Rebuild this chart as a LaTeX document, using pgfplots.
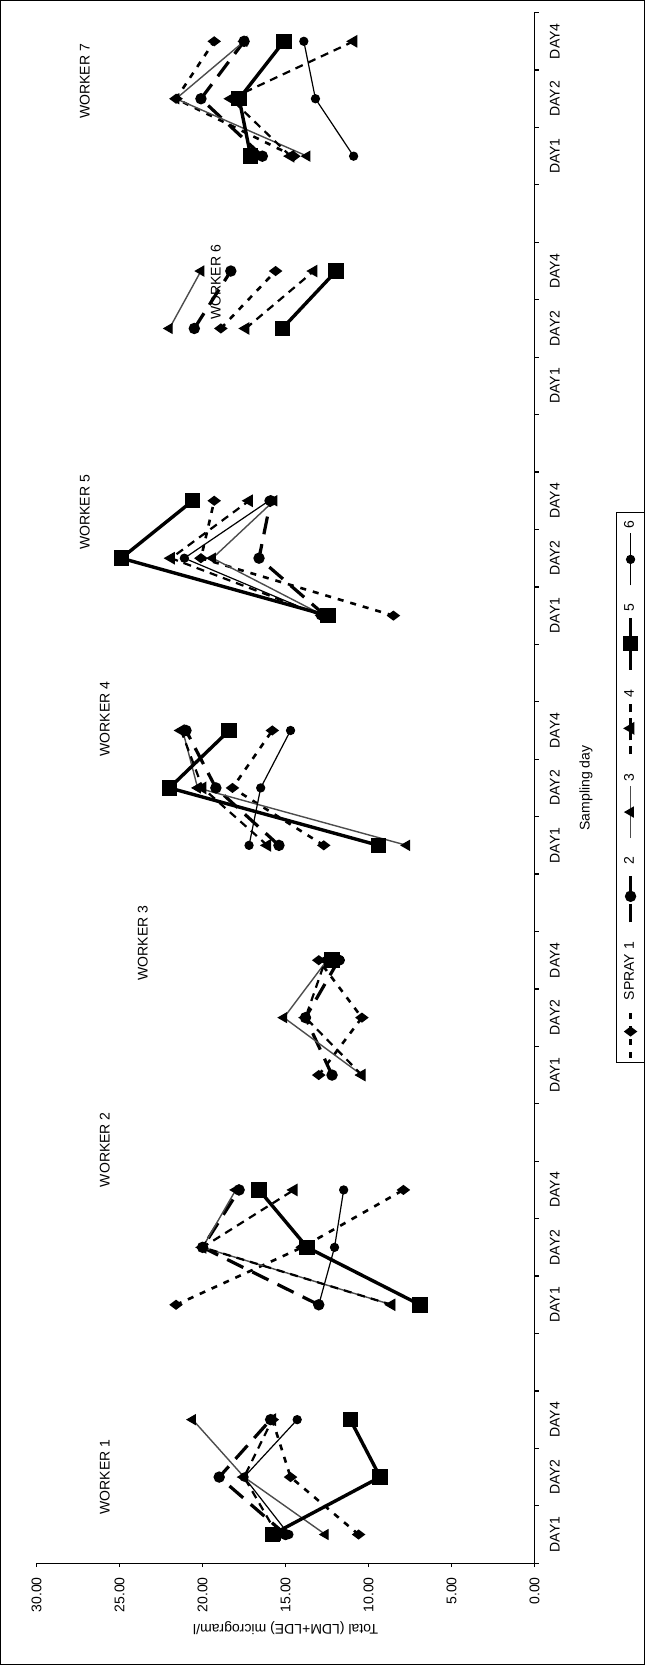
\documentclass[border=0pt]{standalone}
\usepackage{pgfplots}
\pgfplotsset{compat=1.18}
\usepackage{pgfplotstable}
\usepackage{graphicx}
\usepackage{fontspec}
\setmainfont{Liberation Sans}

\pgfplotstableread{
x s1 s2 s3 s4 s5 s6
0 10.6 15.0 12.6 15.5 15.8 14.8
1 14.7 19.0 17.5 17.5 9.3 17.5
2 15.8 15.9 20.6 15.8 11.1 14.3
3 nan nan nan nan nan nan
4 21.6 13.0 8.6 8.6 6.9 13.0
5 14.0 20.0 20.0 20.0 13.7 12.05
6 7.9 17.8 18.0 14.5 16.6 11.5
7 nan nan nan nan nan nan
8 13.0 12.2 10.4 10.4 nan nan
9 10.4 13.8 15.1 13.8 nan nan
10 13.0 11.8 12.5 12.6 12.2 11.7
11 nan nan nan nan nan nan
12 12.7 15.4 7.7 16.1 9.4 17.2
13 18.2 19.2 20.3 20.0 22.0 16.5
14 15.8 21.0 21.2 21.3 18.4 14.7
15 nan nan nan nan nan nan
16 8.5 12.6 12.7 12.8 12.45 12.9
17 20.1 16.6 19.4 21.9 24.9 21.1
18 19.3 15.9 15.7 17.2 20.6 16.0
19 nan nan nan nan nan nan
20 nan nan nan nan nan nan
21 18.9 20.5 22.0 17.4 15.2 nan
22 15.6 18.3 20.1 13.3 11.95 nan
23 nan nan nan nan nan nan
24 14.5 16.4 13.7 14.7 17.1 10.9
25 21.6 20.1 21.6 18.3 17.8 13.2
26 19.3 17.5 17.5 10.9 15.1 13.9
}\datatable

\pgfplotsset{
 s1/.style={black, line width=1.3pt, dash pattern=on 3pt off 3.5pt, mark=diamond*, mark size=2.3pt, mark options={solid}},
 s2/.style={black, line width=1.6pt, dash pattern=on 9pt off 5pt, mark=*, mark size=2pt, mark options={solid}},
 s3/.style={black!70, line width=0.7pt, mark=triangle*, mark size=2.6pt, mark options={solid, black}},
 s4/.style={black, line width=1.1pt, dash pattern=on 4pt off 3pt, mark=triangle*, mark size=2.6pt, mark options={solid}},
 s5/.style={black, line width=1.7pt, mark=square*, mark size=3pt, mark options={solid}},
 s6/.style={black, line width=0.6pt, mark=*, mark size=2pt},
}

\begin{document}
\rotatebox{90}{%
\begin{tikzpicture}[font=\fontsize{7}{8.4}\selectfont]
\begin{axis}[
 scale only axis, width=774pt, height=248.5pt,
 xmin=-0.5, xmax=26.5, ymin=0, ymax=30,
 axis lines=left, axis line style={-, line width=0.6pt},
 unbounded coords=jump,
 tick align=outside,
 major tick length=0pt, minor tick length=2pt,
 every tick/.style={black, line width=0.6pt},
 xtick={0,1,2,4,5,6,8,9,10,12,13,14,16,17,18,20,21,22,24,25,26},
 xticklabels={DAY1,DAY2,DAY4,DAY1,DAY2,DAY4,DAY1,DAY2,DAY4,DAY1,DAY2,DAY4,DAY1,DAY2,DAY4,DAY1,DAY2,DAY4,DAY1,DAY2,DAY4},
 minor xtick={-0.5,0.5,...,26.5},
 ytick={0,5,...,30}, minor ytick={0,5,...,30},
 xticklabel style={anchor=base, yshift=-12.5pt},
 yticklabel style={xshift=-3.5pt, /pgf/number format/fixed, /pgf/number format/fixed zerofill, /pgf/number format/precision=2},
 /pgf/number format/assume math mode=true,
 xlabel={Sampling day},
 xlabel style={at={(axis description cs:0.5,0)}, anchor=base, yshift=-27.5pt},
 ylabel={Total (LDM+LDE) microgram/l},
 ylabel style={at={(axis description cs:-0.042,0.5)}, anchor=center},
 legend image code/.code={\draw[mark repeat=2,mark phase=2] plot coordinates {(0pt,0pt) (13pt,0pt) (26pt,0pt)};},
 legend style={at={(0.5,-0.193)}, anchor=center, legend columns=-1, draw=black, line width=0.5pt, inner sep=2pt,
   /tikz/every even column/.append style={column sep=7pt}},
]
\addplot[s1] table[x=x, y=s1] {\datatable}; \addlegendentry{SPRAY 1}
\addplot[s2] table[x=x, y=s2] {\datatable}; \addlegendentry{2}
\addplot[s3] table[x=x, y=s3] {\datatable}; \addlegendentry{3}
\addplot[s4] table[x=x, y=s4] {\datatable}; \addlegendentry{4}
\addplot[s5] table[x=x, y=s5] {\datatable}; \addlegendentry{5}
\addplot[s6] table[x=x, y=s6] {\datatable}; \addlegendentry{6}
\node at (axis cs:1.0,25.9) {WORKER 1};
\node at (axis cs:6.7,25.9) {WORKER 2};
\node at (axis cs:10.3,23.6) {WORKER 3};
\node at (axis cs:14.2,25.9) {WORKER 4};
\node at (axis cs:17.8,27.1) {WORKER 5};
\node at (axis cs:21.8,19.2) {WORKER 6};
\node at (axis cs:25.3,27.1) {WORKER 7};
\end{axis}
\draw[line width=0.6pt] ([shift={(-50.5pt,-55pt)}]current axis.south west) rectangle ([shift={(6pt,18pt)}]current axis.north east);
\end{tikzpicture}}
\end{document}
